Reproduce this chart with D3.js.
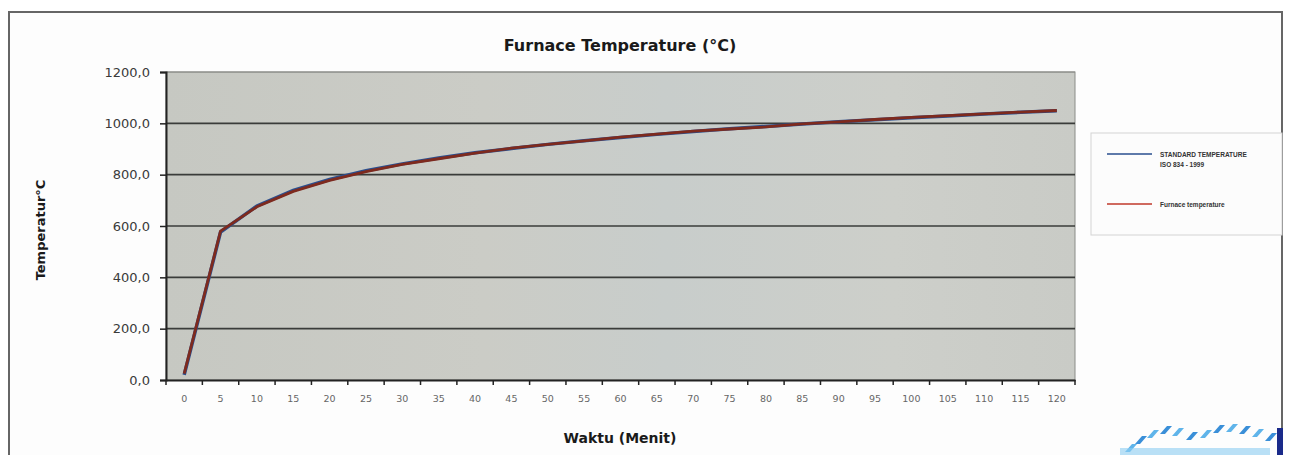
<!DOCTYPE html>
<html><head><meta charset="utf-8">
<script src="https://cdn.jsdelivr.net/npm/d3@7"></script>
<style>body{margin:0;background:#fff}svg{display:block}</style>
</head><body>
<svg id="c" width="1291" height="455"></svg>
<script>
const categories = ["0","5","10","15","20","25","30","35","40","45","50","55","60","65","70","75","80","85","90","95","100","105","110","115","120"];
const standardTemp = [20,576,678,739,781,815,842,865,885,902,918,932,945,957,968,979,988,997,1006,1014,1022,1029,1036,1043,1049];
const furnaceTemp = [25,580,675,735,778,812,840,862,884,903,918,932,946,958,970,978,986,998,1006,1015,1023,1030,1037,1044,1050];
const yTicks = [0,200,400,600,800,1000,1200];
const seriesNames = ["STANDARD TEMPERATURE", "ISO 834 - 1999", "Furnace temperature"];

const svg = d3.select("#c");
const m = {left:166, right:1075, top:72, bottom:380};

svg.append("rect").attr("x",9).attr("y",12).attr("width",1273).attr("height",460)
  .attr("fill","#fdfdfd").attr("stroke","#666").attr("stroke-width",2);

const defs = svg.append("defs");
const g = defs.append("linearGradient").attr("id","bg").attr("x1","0").attr("x2","1").attr("y1","0").attr("y2","0");
g.append("stop").attr("offset","0").attr("stop-color","#c6c8c2");
g.append("stop").attr("offset","0.35").attr("stop-color","#cbccc6");
g.append("stop").attr("offset","0.55").attr("stop-color","#c8cdcb");
g.append("stop").attr("offset","0.8").attr("stop-color","#cdcfca");
g.append("stop").attr("offset","1").attr("stop-color","#c9cbc6");

const x = d3.scaleBand().domain(categories).range([m.left,m.right]).padding(0);
const y = d3.scaleLinear().domain([0,1200]).range([m.bottom,m.top]);

svg.append("rect").attr("x",m.left).attr("y",m.top).attr("width",m.right-m.left).attr("height",m.bottom-m.top)
  .attr("fill","url(#bg)").attr("stroke","#8a8c88").attr("stroke-width",1);

svg.append("g").selectAll("line").data(yTicks.filter(d=>d>0)).join("line")
  .attr("x1",m.left).attr("x2",m.right).attr("y1",d=>y(d)).attr("y2",d=>y(d))
  .attr("stroke",d=>d===1200?"#8a8c88":"#3a3c3a").attr("stroke-width",d=>d===1200?1:1.6);

const ya = svg.append("g").attr("transform",`translate(${m.left},0)`)
  .call(d3.axisLeft(y).tickValues(yTicks).tickSize(6).tickFormat(d=>d3.format(".1f")(d).replace(".",",")));
ya.select(".domain").attr("stroke","#222").attr("stroke-width",2);
ya.selectAll(".tick line").attr("stroke","#222").attr("stroke-width",1.5);
ya.selectAll("text").attr("font-family","DejaVu Sans, Verdana, sans-serif").attr("font-size",13).attr("fill","#3a3a3a").attr("x",-16);

const xa = svg.append("g").attr("transform",`translate(0,${m.bottom})`)
  .call(d3.axisBottom(x).tickSize(0).tickPadding(15));
xa.select(".domain").attr("stroke","#222").attr("stroke-width",2);
xa.selectAll("text").attr("font-family","DejaVu Sans, Verdana, sans-serif").attr("font-size",9.5).attr("fill","#666");
xa.append("g").selectAll("line").data(categories.map((c,i)=>i).concat([categories.length])).join("line")
  .attr("x1",i=>m.left+i*x.bandwidth()).attr("x2",i=>m.left+i*x.bandwidth())
  .attr("y1",0).attr("y2",5).attr("stroke","#222").attr("stroke-width",1.5);

const line = d3.line().x((d,i)=>x(categories[i])+x.bandwidth()/2).y(d=>y(d));
svg.append("path").datum(standardTemp).attr("d",line).attr("fill","none").attr("stroke","#2a4f8f").attr("stroke-width",3.5);
svg.append("path").datum(furnaceTemp).attr("d",line).attr("fill","none").attr("stroke","#7e2a1e").attr("stroke-width",2.8);

svg.append("text").attr("x",620).attr("y",51).attr("text-anchor","middle")
  .attr("font-family","DejaVu Sans, Verdana, sans-serif").attr("font-weight","bold").attr("font-size",16).attr("fill","#1a1a1a")
  .text("Furnace Temperature (°C)");
svg.append("text").attr("transform","translate(45,230) rotate(-90)").attr("text-anchor","middle")
  .attr("font-family","DejaVu Sans, Verdana, sans-serif").attr("font-weight","bold").attr("font-size",13).attr("fill","#1a1a1a")
  .text("Temperatur°C");
svg.append("text").attr("x",620).attr("y",443).attr("text-anchor","middle")
  .attr("font-family","DejaVu Sans, Verdana, sans-serif").attr("font-weight","bold").attr("font-size",14).attr("fill","#1a1a1a")
  .text("Waktu (Menit)");

const lg = svg.append("g");
lg.append("rect").attr("x",1091).attr("y",133).attr("width",191).attr("height",102).attr("fill","#fcfcfc").attr("stroke","#d4d4d4");
lg.append("line").attr("x1",1107).attr("x2",1152).attr("y1",154).attr("y2",154).attr("stroke","#2a4f8f").attr("stroke-width",1.5);
lg.append("line").attr("x1",1107).attr("x2",1152).attr("y1",204).attr("y2",204).attr("stroke","#c0392b").attr("stroke-width",1.5);
const ff = "Liberation Sans, Arial, sans-serif";
lg.append("text").attr("x",1160).attr("y",157).attr("font-family",ff).attr("font-size",6.5).attr("fill","#333").attr("font-weight","bold").text(seriesNames[0]);
lg.append("text").attr("x",1160).attr("y",167).attr("font-family",ff).attr("font-size",6.5).attr("fill","#333").attr("font-weight","bold").text(seriesNames[1]);
lg.append("text").attr("x",1160).attr("y",207).attr("font-family",ff).attr("font-size",6.5).attr("fill","#333").attr("font-weight","bold").text(seriesNames[2]);

const logo = svg.append("g");
const logoBars = [[1125,452],[1135,444],[1147,438],[1160,434],[1172,436],[1186,440],[1200,438],[1213,433],[1226,432],[1239,434],[1252,437],[1265,441]];
logo.selectAll("path").data(logoBars).join("path")
  .attr("d",d=>`M${d[0]},${d[1]} l7,-8 l5,0 l-7,8 z`).attr("fill",(d,i)=>i%2?"#3a8fd8":"#5fb4ea");
logo.append("rect").attr("x",1120).attr("y",448).attr("width",150).attr("height",7).attr("fill","#8ccdf2").attr("opacity",0.6);
logo.append("rect").attr("x",1277).attr("y",428).attr("width",6).attr("height",27).attr("fill","#1a2a8a");
</script>
</body></html>
